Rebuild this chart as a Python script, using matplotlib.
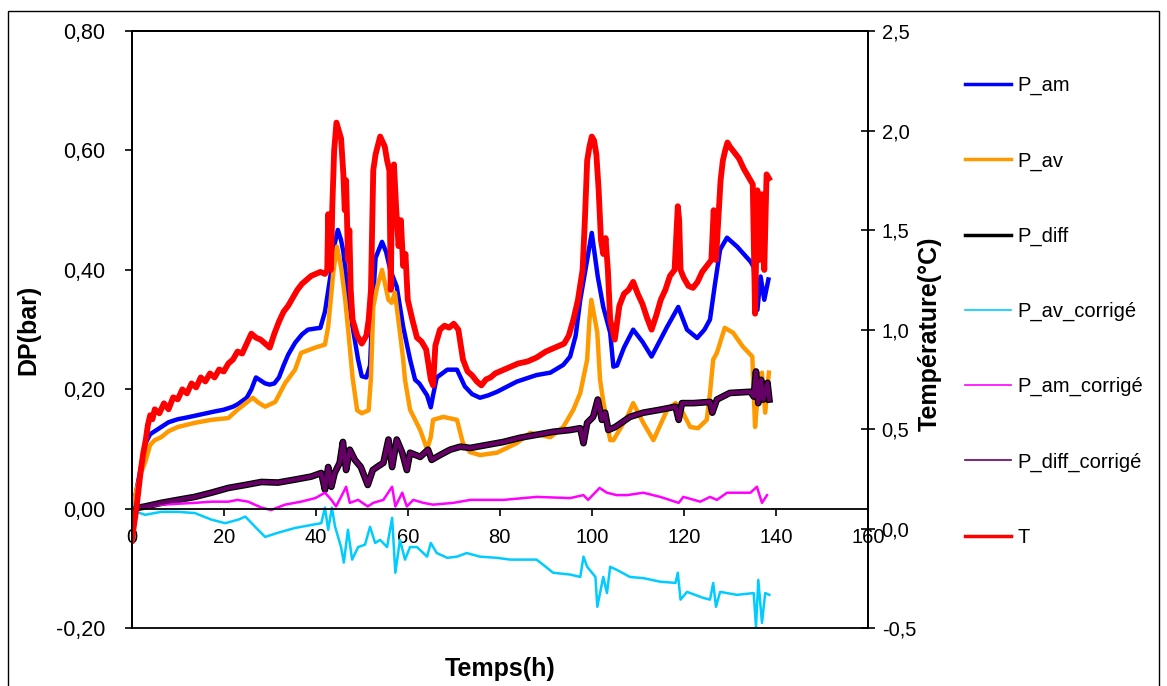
import matplotlib
matplotlib.use('Agg')
import matplotlib.pyplot as plt
from matplotlib.lines import Line2D
from matplotlib.patches import Rectangle

plt.rcParams['font.family'] = ['Liberation Sans', 'DejaVu Sans']

# Temps (h) et valeurs
t_T = [0, 0.5, 1, 1.5, 2, 2.5, 3, 3.5, 4, 4.5, 5, 6, 7, 8, 9, 10, 11, 12, 13, 14, 15, 16, 17, 18, 19, 20,
       21, 22, 23, 24, 25, 26, 27, 28, 29, 30, 31, 32, 33, 34, 35, 36, 37, 38, 39, 40, 41, 42, 42.5, 42.7,
       43, 43.3, 43.6, 44, 44.5, 45, 45.5, 46, 46.3, 46.6, 47, 47.3, 47.6, 48, 49, 50, 51, 51.5, 52, 52.5,
       53, 54, 55, 55.5, 56, 56.3, 56.6, 57, 57.5, 58, 58.5, 59, 59.5, 60, 61, 62, 63, 64, 65, 65.5, 66, 67,
       68, 69, 70, 71, 72, 73, 74, 75, 76, 77, 78, 79, 80, 82, 84, 86, 88, 90, 92, 94, 95, 96, 97, 98, 98.5,
       99, 99.5, 100, 100.5, 101, 101.5, 102, 102.5, 103, 103.5, 104, 105, 106, 107, 108, 109, 110, 111,
       112, 113, 114, 115, 116, 117, 118, 118.7, 119, 119.3, 120, 121, 122, 123, 124, 125, 126, 126.5, 127,
       127.5, 128, 128.5, 129, 129.5, 130, 131, 132, 133, 134, 135, 135.5, 136, 136.5, 137, 137.5, 138, 138.5]
T = [-0.06, 0.02, 0.10, 0.20, 0.30, 0.38, 0.44, 0.52, 0.57, 0.55, 0.60, 0.58, 0.63, 0.60, 0.66, 0.65,
     0.70, 0.68, 0.73, 0.71, 0.76, 0.74, 0.78, 0.76, 0.80, 0.79, 0.83, 0.85, 0.89, 0.88, 0.93, 0.98, 0.96,
     0.95, 0.93, 0.91, 0.98, 1.04, 1.09, 1.12, 1.16, 1.20, 1.23, 1.25, 1.27, 1.28, 1.29, 1.28, 1.30, 1.58,
     1.32, 1.30, 1.62, 1.90, 2.04, 2.00, 1.96, 1.78, 1.60, 1.75, 1.35, 1.50, 1.20, 1.05, 0.97, 0.93, 0.97,
     1.05, 1.20, 1.80, 1.88, 1.97, 1.92, 1.85, 1.80, 1.20, 1.75, 1.83, 1.60, 1.42, 1.55, 1.32, 1.38, 1.15,
     1.05, 0.96, 0.94, 0.90, 0.75, 0.72, 0.92, 1.00, 1.02, 1.01, 1.03, 1.00, 0.85, 0.79, 0.77, 0.74, 0.72,
     0.75, 0.76, 0.78, 0.79, 0.81, 0.83, 0.84, 0.86, 0.89, 0.91, 0.93, 0.97, 1.05, 1.15, 1.30, 1.55, 1.85,
     1.92, 1.97, 1.95, 1.88, 1.70, 1.45, 1.38, 1.46, 1.30, 1.05, 0.95, 1.12, 1.18, 1.20, 1.24, 1.18, 1.13,
     1.06, 1.00, 1.07, 1.15, 1.20, 1.27, 1.30, 1.62, 1.55, 1.30, 1.26, 1.22, 1.21, 1.24, 1.29, 1.32, 1.35,
     1.60, 1.35, 1.55, 1.75, 1.85, 1.90, 1.94, 1.92, 1.89, 1.86, 1.81, 1.77, 1.73, 1.08, 1.70, 1.35, 1.68,
     1.30, 1.78, 1.76]

t_am = [0, 0.5, 1, 1.5, 2, 2.5, 3, 4, 5, 6, 8, 10, 12, 15, 18, 20, 22, 23, 25, 26, 27, 28, 29, 30, 31, 32,
        33, 34, 35.5, 37, 38.3, 40, 41, 42, 43.3, 44, 44.8, 45.5, 46, 47, 48, 49.2, 50, 51, 51.8, 52.3, 53,
        54.4, 55.3, 56.2, 57.6, 59, 60.5, 61.6, 62.5, 64.2, 65, 65.5, 66.3, 68.6, 70.7, 72.4, 74, 75.7, 77.5,
        79.4, 83.7, 88, 91, 93.8, 95.3, 96.5, 97.5, 99, 100, 101.3, 102.5, 104, 104.7, 105.5, 107, 109, 111,
        113, 114.7, 116.4, 118.8, 120.7, 122.9, 124.5, 125.7, 126.7, 127.9, 129.4, 131.6, 134.5, 135.2, 136,
        136.7, 137.5, 138.4]
P_am = [-0.01, 0.01, 0.03, 0.05, 0.07, 0.09, 0.11, 0.125, 0.13, 0.135, 0.145, 0.15, 0.153, 0.158, 0.163,
        0.166, 0.171, 0.175, 0.186, 0.20, 0.22, 0.215, 0.21, 0.208, 0.21, 0.22, 0.24, 0.258, 0.278, 0.292,
        0.30, 0.302, 0.303, 0.33, 0.395, 0.44, 0.467, 0.45, 0.43, 0.36, 0.305, 0.25, 0.222, 0.22, 0.24, 0.33,
        0.42, 0.447, 0.43, 0.40, 0.372, 0.305, 0.25, 0.216, 0.21, 0.19, 0.17, 0.19, 0.22, 0.233, 0.233, 0.205,
        0.192, 0.186, 0.19, 0.196, 0.213, 0.224, 0.228, 0.241, 0.255, 0.29, 0.35, 0.417, 0.462, 0.389, 0.338,
        0.295, 0.238, 0.24, 0.27, 0.30, 0.28, 0.255, 0.28, 0.305, 0.338, 0.30, 0.286, 0.30, 0.317, 0.372,
        0.434, 0.454, 0.439, 0.414, 0.405, 0.333, 0.389, 0.35, 0.384]

t_av = [0, 0.5, 1, 2, 3, 4, 5, 6.4, 8, 10, 13.7, 17.3, 21, 23, 24.5, 26.3, 27.5, 29, 31.2, 33.3, 35.5, 36.8,
        39.9, 42, 42.7, 43.8, 44.6, 45.5, 46.4, 47.1, 48, 49, 50, 51.5, 52, 52.5, 53.3, 54.4, 55.8, 56.5,
        57.2, 58.3, 59, 59.4, 60.5, 62.7, 64.2, 65, 65.5, 67.7, 70.7, 72, 73.5, 75.7, 79.4, 83.7, 86.6, 91,
        93.8, 96, 97.5, 99, 99.5, 99.9, 101.2, 101.8, 102.5, 104, 104.7, 107.7, 109, 111.2, 113.4, 116.4,
        118.2, 119.2, 121.4, 123.1, 125, 125.7, 126.4, 127.2, 128.9, 130.7, 132.9, 134.9, 135.5, 136.1, 137,
        137.7, 138.5]
P_av = [-0.01, 0.01, 0.03, 0.06, 0.08, 0.107, 0.115, 0.12, 0.13, 0.137, 0.144, 0.149, 0.152, 0.166, 0.175,
        0.186, 0.178, 0.171, 0.179, 0.21, 0.233, 0.261, 0.27, 0.275, 0.305, 0.395, 0.439, 0.405, 0.35, 0.295,
        0.22, 0.165, 0.16, 0.165, 0.22, 0.338, 0.37, 0.40, 0.35, 0.345, 0.362, 0.295, 0.25, 0.216, 0.166,
        0.132, 0.10, 0.12, 0.149, 0.154, 0.149, 0.11, 0.095, 0.09, 0.094, 0.11, 0.127, 0.12, 0.137, 0.166,
        0.194, 0.25, 0.317, 0.35, 0.295, 0.216, 0.18, 0.115, 0.115, 0.154, 0.177, 0.144, 0.115, 0.166, 0.177,
        0.17, 0.137, 0.135, 0.149, 0.194, 0.25, 0.261, 0.303, 0.295, 0.271, 0.255, 0.137, 0.194, 0.228,
        0.161, 0.228]

t_diff = [0, 2.9, 6.4, 10, 13.7, 17.3, 21, 24.7, 28.2, 31.8, 35.5, 39, 41.2, 42, 42.7, 43.4, 44.1, 45.2,
          45.9, 46.6, 47.4, 48.5, 49.8, 51.3, 52.4, 53.3, 54.7, 55.8, 56.6, 57.6, 58.8, 59.8, 60.5, 62.7,
          64.4, 65.2, 67, 69.2, 71.4, 73.6, 77.2, 80.8, 84.4, 88, 91.6, 95.3, 97.5, 98.2, 99, 100.3, 101.3,
          102.2, 102.9, 103.6, 105.1, 108.3, 111.2, 114.9, 118.2, 118.9, 119.6, 122.1, 125.7, 126.2, 127.2,
          130, 134.5, 135.2, 135.7, 136.2, 136.8, 137.3, 138.2, 138.6]
P_diff = [0.0, 0.004, 0.01, 0.015, 0.02, 0.027, 0.035, 0.04, 0.045, 0.044, 0.049, 0.054, 0.06, 0.032, 0.07,
          0.037, 0.06, 0.077, 0.112, 0.065, 0.099, 0.082, 0.07, 0.04, 0.065, 0.07, 0.077, 0.116, 0.07, 0.116,
          0.094, 0.065, 0.094, 0.087, 0.099, 0.082, 0.09, 0.099, 0.104, 0.102, 0.107, 0.112, 0.119, 0.124,
          0.129, 0.132, 0.135, 0.11, 0.144, 0.154, 0.183, 0.149, 0.161, 0.132, 0.137, 0.154, 0.161, 0.166,
          0.171, 0.149, 0.177, 0.177, 0.179, 0.161, 0.183, 0.194, 0.196, 0.188, 0.23, 0.177, 0.216, 0.183,
          0.211, 0.183]
# P_diff_corrigé se superpose à P_diff
P_diff_corr = list(P_diff)

t_am_corr = [0, 3, 6.4, 13.7, 17.3, 21, 23, 25.3, 28.2, 30.3, 33.3, 36.8, 39.9, 42, 43.4, 44.4, 45.5, 46.6,
             47.4, 49.2, 51.3, 52.5, 54.7, 56.6, 57.3, 58.8, 59.8, 61.2, 63.4, 65.5, 69.9, 73.6, 80.8, 88,
             95.3, 98.2, 99.2, 101.7, 103.3, 105.4, 107.7, 111.2, 114.9, 118.9, 119.9, 123.6, 125.7, 127.2,
             129.4, 134.5, 135.9, 137, 138.1]
P_am_corr = [0.0, 0.003, 0.007, 0.01, 0.012, 0.012, 0.015, 0.012, 0.002, -0.002, 0.007, 0.012, 0.018, 0.027,
             0.015, 0.004, 0.02, 0.037, 0.01, 0.015, 0.004, 0.01, 0.015, 0.037, 0.004, 0.027, 0.004, 0.015,
             0.01, 0.007, 0.01, 0.015, 0.015, 0.02, 0.018, 0.023, 0.015, 0.035, 0.027, 0.023, 0.023, 0.027,
             0.02, 0.01, 0.02, 0.012, 0.02, 0.015, 0.027, 0.027, 0.037, 0.01, 0.023]

t_av_corr = [0, 1, 2.9, 6.4, 10, 13.7, 17.3, 20.3, 23.2, 24.7, 26.8, 29, 31.8, 35.5, 39, 41.2, 42, 42.7,
             43.5, 44.2, 45.5, 46.1, 47, 47.9, 49.2, 50.7, 51.8, 52.9, 54, 55.5, 56.6, 57.3, 58.3, 59.4, 60.5,
             62, 64.2, 65, 66.3, 68.6, 70.7, 72.8, 75.7, 79.4, 82.3, 85.2, 88, 89.5, 91.6, 95.3, 97.5, 98.2,
             99, 100.8, 101.2, 102.5, 103.3, 104, 105.4, 108.3, 111.2, 114.9, 118.2, 118.7, 119.3, 120.7,
             124.2, 125.7, 126.4, 127, 127.9, 131.6, 135.2, 135.7, 136.2, 137, 137.7, 138.6]
P_av_corr = [0.01, -0.005, -0.01, -0.005, -0.005, -0.007, -0.018, -0.024, -0.018, -0.013, -0.03, -0.047,
             -0.04, -0.032, -0.027, -0.024, 0.002, -0.035, 0.002, -0.03, -0.064, -0.09, -0.035, -0.085, -0.064,
             -0.06, -0.03, -0.057, -0.052, -0.064, -0.015, -0.107, -0.052, -0.085, -0.064, -0.064, -0.08,
             -0.057, -0.074, -0.082, -0.08, -0.074, -0.08, -0.082, -0.085, -0.085, -0.085, -0.094, -0.107,
             -0.11, -0.114, -0.08, -0.097, -0.114, -0.164, -0.114, -0.141, -0.097, -0.102, -0.114, -0.116,
             -0.122, -0.124, -0.107, -0.152, -0.139, -0.149, -0.152, -0.124, -0.164, -0.139, -0.144, -0.141,
             -0.198, -0.119, -0.191, -0.141, -0.144]

x_ticks = [0, 20, 40, 60, 80, 100, 120, 140, 160]
left_ticks = [-0.2, 0.0, 0.2, 0.4, 0.6, 0.8]
left_labels = ['-0,20', '0,00', '0,20', '0,40', '0,60', '0,80']
right_ticks = [-0.5, 0.0, 0.5, 1.0, 1.5, 2.0, 2.5]
right_labels = ['-0,5', '0,0', '0,5', '1,0', '1,5', '2,0', '2,5']

fig = plt.figure(figsize=(11.67, 6.86), dpi=100)
ax = fig.add_axes([0.1129, 0.0841, 0.6307, 0.8707])
ax2 = ax.twinx()

c_am, c_av, c_diff = '#0000FF', '#FF9900', '#000000'
c_avc, c_amc, c_diffc, c_T = '#00CCFF', '#FF00FF', '#660066', '#FF0000'

ax.plot(t_am, P_am, color=c_am, lw=3.2)
ax.plot(t_av, P_av, color=c_av, lw=3.2)
ax.plot(t_diff, P_diff, color=c_diff, lw=4.8)
ax.plot(t_av_corr, P_av_corr, color=c_avc, lw=1.8)
ax.plot(t_am_corr, P_am_corr, color=c_amc, lw=1.8)
ax.plot(t_diff, P_diff_corr, color=c_diffc, lw=3.0)
ax2.plot(t_T, T, color=c_T, lw=4.2)

ax.set_xlim(0, 160)
ax.set_ylim(-0.2, 0.8)
ax2.set_ylim(-0.5, 2.5)

ax.spines['bottom'].set_position(('data', 0))
for sp in ax.spines.values():
    sp.set_linewidth(1.3)
for sp in ax2.spines.values():
    sp.set_linewidth(1.3)

ax.set_xticks(x_ticks)
ax.set_xticklabels([str(v) for v in x_ticks])
ax.set_yticks(left_ticks)
ax.set_yticklabels(left_labels)
ax2.set_yticks(right_ticks)
ax2.set_yticklabels(right_labels)

ax.tick_params(axis='x', direction='out', length=5, width=1.2, labelsize=14.5, pad=9)
ax.tick_params(axis='y', direction='out', length=5, width=1.2, labelsize=15.5, pad=14)
ax2.tick_params(axis='y', direction='inout', length=10, width=1.2, labelsize=14.5, pad=5)

ax.set_ylabel('DP(bar)', fontsize=18, fontweight='bold')
ax.yaxis.set_label_coords(-0.141, 0.5)
ax.yaxis.label.set_va('center')
ax2.set_ylabel('Température(°C)', fontsize=18, fontweight='bold', rotation=90)
ax2.yaxis.set_label_coords(1.0847, 0.493)
ax2.yaxis.label.set_va('center')
ax.set_xlabel('Temps(h)', fontsize=18, fontweight='bold')
ax.xaxis.set_label_coords(0.501, -0.068)
ax.xaxis.label.set_va('center')

handles = [Line2D([], [], color=c_am, lw=2.5), Line2D([], [], color=c_av, lw=2.5),
           Line2D([], [], color=c_diff, lw=2.5), Line2D([], [], color=c_avc, lw=1.2),
           Line2D([], [], color=c_amc, lw=1.2), Line2D([], [], color=c_diffc, lw=1.2),
           Line2D([], [], color=c_T, lw=2.5)]
labels = ['P_am', 'P_av', 'P_diff', 'P_av_corrigé', 'P_am_corrigé', 'P_diff_corrigé', 'T']
fig.legend(handles, labels, loc='upper left', bbox_to_anchor=(0.827, 0.889), frameon=False,
           fontsize=14.5, handlelength=2.3, handletextpad=0.3, labelspacing=2.78,
           borderpad=0, borderaxespad=0)

fig.add_artist(Rectangle((8 / 1167, -0.05), (1159 - 8) / 1167, 1.05 - 11 / 686,
                         transform=fig.transFigure, fill=False, edgecolor='black', lw=1.0))

fig.savefig('out.png', dpi=100)
